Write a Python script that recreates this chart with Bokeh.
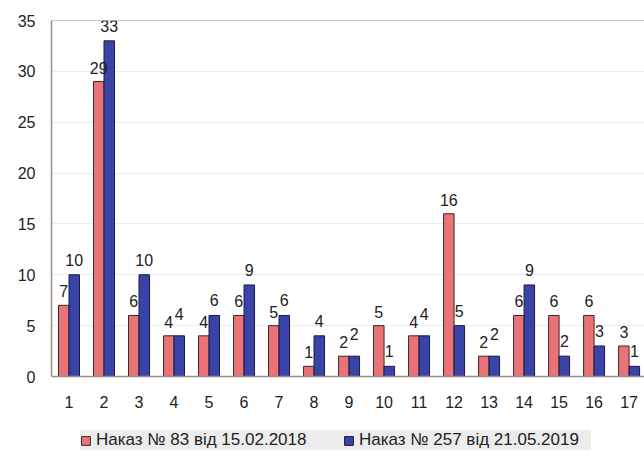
from bokeh.plotting import figure
from bokeh.models import (ColumnDataSource, FixedTicker, Legend, LegendItem,
                          Range1d, Span)
from bokeh.core.properties import value
from bokeh.embed import file_html
from bokeh.resources import INLINE

categories = list(range(1, 18))
tick_labels = [str(c) for c in categories]
series_names = ["Наказ № 83 від 15.02.2018", "Наказ № 257 від 21.05.2019"]
red_values = [7, 29, 6, 4, 4, 6, 5, 1, 2, 5, 4, 16, 2, 6, 6, 6, 3]
blue_values = [10, 33, 10, 4, 6, 9, 6, 4, 2, 1, 4, 5, 2, 9, 2, 3, 1]
y_ticks = [0, 5, 10, 15, 20, 25, 30, 35]

RED = "#ea7377"
BLUE = "#3a43a8"
AXIS = "#9e8a80"
FONT = "Liberation Sans"

# frame extends to the bottom of the canvas; value axis spans 0..35 in its upper part
Y_TOP = 35
Y_BOTTOM = Y_TOP - 438 / (356 / 35)

p = figure(width=644, height=458, output_backend="svg", toolbar_location=None,
           x_range=Range1d(0.5, 17.44), y_range=Range1d(Y_BOTTOM, Y_TOP),
           x_axis_location=None,
           min_border_left=51, min_border_right=0, min_border_top=20,
           min_border_bottom=0)

# blue label lifted a little more when both labels would sit at the same height
blue_off = [-16 if r == b else -9 for r, b in zip(red_values, blue_values)]

red_src = ColumnDataSource(dict(x=[c - 0.15 for c in categories], top=red_values,
                                label=[str(v) for v in red_values],
                                off=[-8] * len(categories)))
blue_src = ColumnDataSource(dict(x=[c + 0.15 for c in categories], top=blue_values,
                                 label=[str(v) for v in blue_values],
                                 off=blue_off))
tick_src = ColumnDataSource(dict(x=categories, y=[0] * len(categories),
                                 label=tick_labels))

r1 = p.vbar(x="x", top="top", width=0.3, source=red_src, fill_color=RED,
            line_color="#3a2a2a", line_width=1)
r2 = p.vbar(x="x", top="top", width=0.3, source=blue_src, fill_color=BLUE,
            line_color="#1a1a40", line_width=1)

for src in (red_src, blue_src):
    p.text(x="x", y="top", text="label", source=src, text_align="center",
           text_baseline="bottom", y_offset="off", text_font=value(FONT),
           text_font_size="16px", text_color="#222222")

# category labels under the baseline
p.text(x="x", y="y", text="label", source=tick_src, text_align="center",
       text_baseline="top", y_offset=19, text_font=value(FONT),
       text_font_size="16px", text_color="#222222")

p.yaxis.ticker = FixedTicker(ticks=y_ticks)
p.yaxis.bounds = (0, Y_TOP)
ax = p.yaxis[0]
ax.axis_line_color = AXIS
ax.axis_line_width = 1.5
ax.major_tick_line_color = None
ax.minor_tick_line_color = None
ax.major_label_text_font = FONT
ax.major_label_text_font_size = "16px"
ax.major_label_text_color = "#222222"
ax.major_label_standoff = 10

p.xgrid.grid_line_color = None
p.ygrid.grid_line_color = "#ececec"
p.outline_line_color = None

p.add_layout(Span(location=0, dimension="width", line_color=AXIS, line_width=1.5))
p.add_layout(Span(location=Y_TOP, dimension="width", line_color=AXIS, line_width=1.2))

legend = Legend(items=[LegendItem(label=series_names[0], renderers=[r1]),
                       LegendItem(label=series_names[1], renderers=[r2])],
                orientation="horizontal", location=(29, 8),
                background_fill_color="#ececec", background_fill_alpha=1.0,
                border_line_color=None,
                label_text_font=FONT, label_text_font_size="17px",
                label_text_color="#222222", glyph_width=11, glyph_height=11,
                spacing=15, padding=12, label_standoff=5, label_width=232,
                label_height=18, margin=0)
p.add_layout(legend, "center")

open("out.html", "w").write(file_html(p, INLINE))
